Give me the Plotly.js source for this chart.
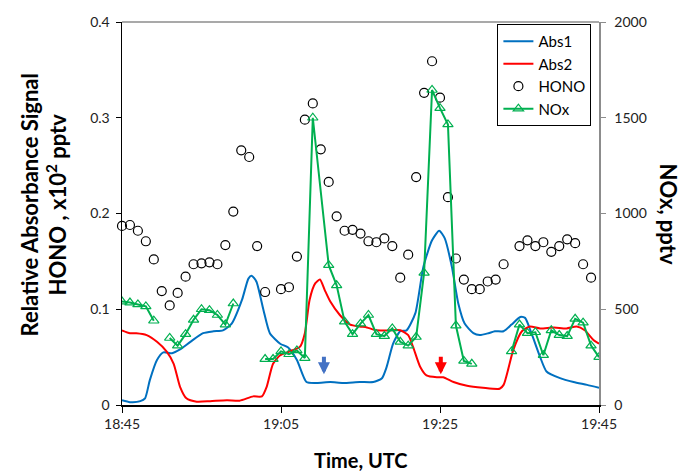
<!DOCTYPE html>
<html>
<head>
<meta charset="utf-8">
<script src="https://cdn.plot.ly/plotly-3.0.1.min.js"></script>
<style>html,body{margin:0;padding:0;background:#fff}#chart{width:686px;height:472px}</style>
</head>
<body>
<div id="chart"></div>
<script>
// Time in minutes after 18:45 UTC
var abs1Time = [0,1.0,2.3,2.9,3.5,4.4,5.2,6.3,7.3,8.6,10.2,11.5,12.7,13.8,15.1,15.9,16.3,16.9,17.8,18.6,19.9,20.9,22.0,23.2,24.5,26.2,27.8,29.9,31.6,32.7,33.3,34.1,35.0,35.8,36.9,37.9,39.0,39.9,40.6,41.5,42.3,43.1,44.2,45.0,46.1,46.9,48.0,49.0,50.1,50.7,51.5,52.6,53.4,55.1,56.8,58.5,60];
var abs1Val  = [0.005,0.003,0.004,0.007,0.026,0.047,0.055,0.054,0.058,0.066,0.075,0.077,0.078,0.085,0.110,0.132,0.135,0.129,0.099,0.075,0.064,0.060,0.047,0.024,0.023,0.024,0.023,0.024,0.024,0.028,0.040,0.064,0.077,0.078,0.096,0.144,0.172,0.182,0.174,0.144,0.106,0.085,0.075,0.073,0.075,0.077,0.077,0.084,0.092,0.091,0.075,0.050,0.035,0.028,0.024,0.021,0.018];

var abs2Time = [0,1.0,1.8,3.1,4.4,5.6,6.5,7.3,8.1,9.4,11.1,13.2,14.8,16.5,17.6,18.2,19.0,19.9,21.1,22.4,23.0,23.6,24.3,24.9,25.5,26.2,27.4,28.7,29.9,30.8,32.0,33.7,35.0,36.0,36.6,37.5,38.3,39.6,40.4,41.7,43.4,45.4,47.5,48.0,48.6,49.2,50.3,51.3,52.6,54.3,55.9,57.2,58.2,59.3,60];
var abs2Val  = [0.078,0.075,0.075,0.073,0.066,0.056,0.043,0.019,0.007,0.0035,0.004,0.005,0.0045,0.009,0.009,0.019,0.043,0.052,0.056,0.061,0.075,0.110,0.127,0.131,0.120,0.108,0.094,0.084,0.082,0.081,0.078,0.078,0.078,0.073,0.061,0.040,0.031,0.029,0.029,0.024,0.020,0.018,0.017,0.021,0.038,0.057,0.077,0.082,0.080,0.081,0.080,0.082,0.078,0.068,0.064];

var honoTime = [0,1,2,3,4,5,6,7,8,9,10,11,12,13,14,15,16,17,18,20,21,22,23,24,25,26,27,28,29,30,31,32,33,34,35,36,37,38,39,40,41,42,43,44,45,46,47,48,50,51,52,53,54,55,56,57,58,59];
var honoVal  = [0.187,0.188,0.182,0.171,0.152,0.119,0.104,0.117,0.134,0.147,0.148,0.149,0.147,0.167,0.202,0.266,0.259,0.166,0.118,0.121,0.123,0.155,0.298,0.315,0.267,0.233,0.197,0.182,0.183,0.179,0.171,0.170,0.174,0.166,0.133,0.157,0.238,0.326,0.359,0.321,0.217,0.153,0.131,0.121,0.121,0.129,0.131,0.147,0.166,0.172,0.166,0.170,0.160,0.166,0.173,0.169,0.147,0.133];

var noxTime = [0,1,2,3,4,5,6,7,8,9,10,11,12,13,14,15,16,17,18,19,20,21,22,23,24,26,27,28,29,30,31,32,33,34,35,36,37,38,39,40,41,42,43,44,45,46,47,48,49,50,51,52,53,54,55,56,57,58,59,60];
var noxVal  = [540,535,525,515,440,null,350,310,370,445,500,495,470,420,530,null,null,null,240,240,280,265,285,245,1500,730,625,435,370,425,470,370,360,400,330,310,355,690,1645,1550,1465,415,230,215,null,null,null,null,280,420,375,380,260,390,365,360,450,430,310,250];

var xTickVals = [0,20,40,60];
var xTickText = ["18:45","19:05","19:25","19:45"];
var arrowTime = [25.4, 40.1];
var arrowColor = ["#4472C4","#FF0000"];

var font = "Lato, 'Open Sans', sans-serif";

var traces = [
  {x: abs1Time, y: abs1Val, name: "Abs1", mode: "lines", line: {color: "#0070C0", width: 2, shape: "spline", smoothing: 0.6}},
  {x: abs2Time, y: abs2Val, name: "Abs2", mode: "lines", line: {color: "#FF0000", width: 2, shape: "spline", smoothing: 0.6}},
  {x: honoTime, y: honoVal, name: "HONO", mode: "markers", cliponaxis: false,
   marker: {symbol: "circle-open", size: 9, color: "#000", line: {width: 1.2, color: "#000"}}},
  {x: noxTime, y: noxVal, name: "NOx", mode: "lines+markers", yaxis: "y2", connectgaps: false,
   line: {color: "#00B050", width: 2}, marker: {symbol: "triangle-up-open", size: 9, color: "#00B050", line: {width: 1.2, color: "#00B050"}}}
];

var annotations = [
  {xref: "paper", yref: "paper", x: 0, y: 0.5, xanchor: "center", yanchor: "middle", xshift: -79, yshift: 9, textangle: -90, showarrow: false,
   text: "<b>Relative Absorbance Signal<br>HONO , x10<sup>2</sup> pptv</b>", font: {family: font, size: 22, color: "#000"}},
  {xref: "paper", yref: "paper", x: 1, y: 0.5, xanchor: "center", yanchor: "middle", xshift: 69, textangle: 90, showarrow: false,
   text: "<b>NOx, pptv</b>", font: {family: font, size: 22, color: "#000"}},
  {xref: "paper", yref: "paper", x: 0.5, y: 0, xanchor: "center", yanchor: "middle", yshift: -55, showarrow: false,
   text: "<b>Time, UTC</b>", font: {family: font, size: 20, color: "#000"}}
];
for (var i = 0; i < arrowTime.length; i++) {
  annotations.push({x: arrowTime[i], y: 0.032, xref: "x", yref: "y", text: "", showarrow: true,
    ax: 0, ay: -19, arrowhead: 2, arrowsize: 0.6, arrowwidth: 4, arrowcolor: arrowColor[i], standoff: 0});
}

var layout = {
  width: 686, height: 472,
  margin: {l: 122, r: 87, t: 22, b: 67},
  paper_bgcolor: "#fff", plot_bgcolor: "#fff",
  font: {family: font, size: 14, color: "#222"},
  showlegend: true,
  legend: {x: 0.787, y: 0.995, xanchor: "left", yanchor: "top", bgcolor: "#fff",
           bordercolor: "#000", borderwidth: 1, font: {family: font, size: 15, color: "#000"},
           tracegroupgap: 0, itemwidth: 30},
  xaxis: {range: [0, 60], tickvals: xTickVals, ticktext: xTickText, showgrid: false, zeroline: false,
          showline: true, linecolor: "#000", linewidth: 1.5, ticks: "outside", ticklen: 6, tickcolor: "#000",
          tickfont: {family: font, size: 14, color: "#222"}},
  yaxis: {range: [0, 0.4], showgrid: false, zeroline: false, showline: true, linecolor: "#000",
          linewidth: 1.5, ticks: "outside", ticklen: 5, tickcolor: "#000", ticklabelstandoff: 3,
          tickvals: [0, 0.1, 0.2, 0.3, 0.4], ticktext: ["0", "0.1", "0.2", "0.3", "0.4"],
          tickfont: {family: font, size: 14, color: "#222"}},
  yaxis2: {range: [0, 2000], overlaying: "y", side: "right", showgrid: false, zeroline: false, showline: true,
           linecolor: "#8c8c8c", linewidth: 1.5, ticks: "outside", ticklen: 5, tickcolor: "#8c8c8c", ticklabelstandoff: 6,
           tickvals: [0, 500, 1000, 1500, 2000], tickfont: {family: font, size: 14, color: "#222"}},
  shapes: [{type: "line", xref: "paper", yref: "paper", x0: 0, x1: 1, y0: 1, y1: 1, line: {color: "#8c8c8c", width: 1.5}}],
  annotations: annotations
};

Plotly.newPlot("chart", traces, layout, {displayModeBar: false, staticPlot: true});
</script>
</body>
</html>
